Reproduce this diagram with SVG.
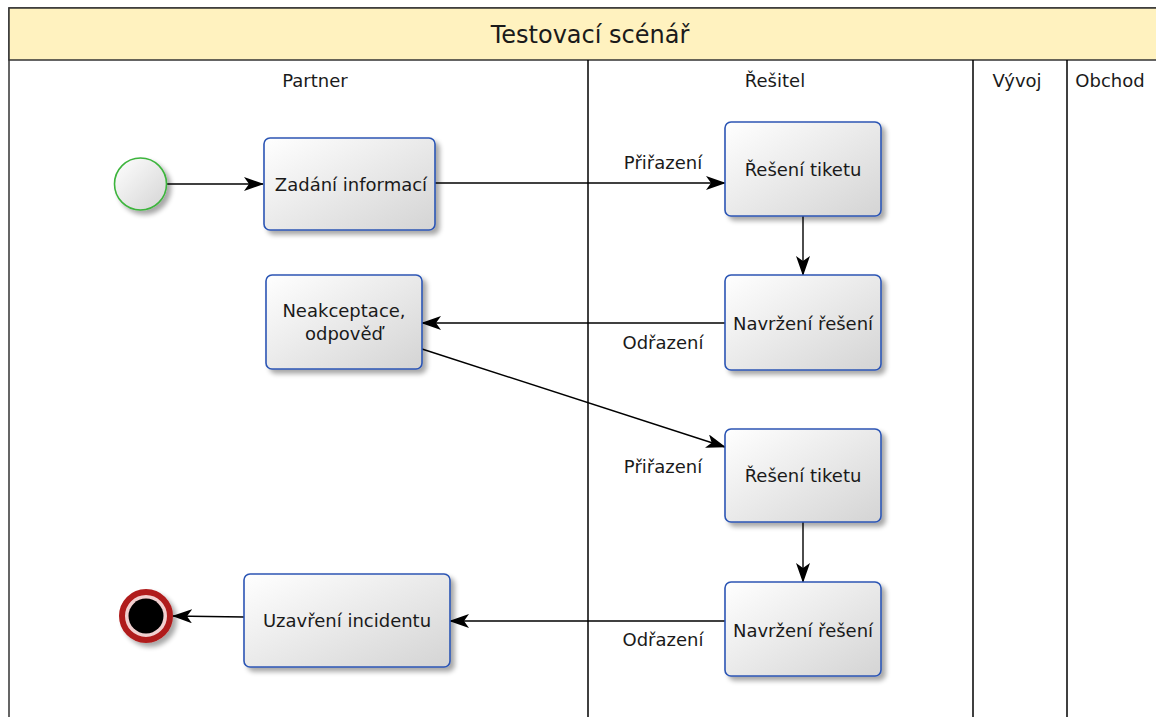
<svg xmlns="http://www.w3.org/2000/svg" width="1156" height="717" viewBox="0 0 1156 717">
<defs>
<linearGradient id="g" x1="0" y1="0" x2="1" y2="1">
<stop offset="0" stop-color="#ffffff"/>
<stop offset="1" stop-color="#d4d4d4"/>
</linearGradient>
<filter id="sh" x="-20%" y="-20%" width="150%" height="150%">
<feGaussianBlur in="SourceAlpha" stdDeviation="2.5"/>
<feOffset dx="4" dy="4" result="b"/>
<feComponentTransfer><feFuncA type="linear" slope="0.35"/></feComponentTransfer>
<feMerge><feMergeNode/><feMergeNode in="SourceGraphic"/></feMerge>
</filter>
<marker id="arr" viewBox="0 0 20 14" refX="19" refY="7" markerWidth="20" markerHeight="14" markerUnits="userSpaceOnUse" orient="auto">
<path d="M0,0 L20,7 L0,14 L5,7 Z" fill="#000"/>
</marker>
<style>
.t{font-family:"DejaVu Sans",Tahoma,sans-serif;font-size:18px;fill:#1a1a1a;text-anchor:middle}
.lbl{font-family:"DejaVu Sans",Tahoma,sans-serif;font-size:18px;fill:#1a1a1a;text-anchor:middle}
.box{fill:url(#g);stroke:#2c55b4;stroke-width:1.6;filter:url(#sh)}
.e{stroke:#000;stroke-width:1.4;fill:none;marker-end:url(#arr)}
.lane{stroke:#000;stroke-width:1.5;fill:none}
</style>
</defs>
<g id="pool">
<rect x="9" y="8" width="1160" height="720" fill="#fff" stroke="#333" stroke-width="1.5"/>
<rect x="9" y="8" width="1160" height="52" fill="#fff2bf" stroke="#333" stroke-width="1.5"/>
<text class="t" x="590" y="43" style="font-size:24px">Testovací scénář</text>
<line class="lane" x1="588" y1="60" x2="588" y2="717"/>
<line class="lane" x1="973" y1="60" x2="973" y2="717"/>
<line class="lane" x1="1067" y1="60" x2="1067" y2="717"/>
<text class="t" x="315" y="87">Partner</text>
<text class="t" x="775" y="87">Řešitel</text>
<text class="t" x="1017" y="87">Vývoj</text>
<text class="t" x="1110" y="87">Obchod</text>
</g>
<g id="connectors">
<line class="e" x1="167" y1="184" x2="263" y2="184"/>
<line class="e" x1="435" y1="183" x2="725" y2="183"/>
<line class="e" x1="803" y1="216" x2="803" y2="275"/>
<line class="e" x1="725" y1="323" x2="422" y2="323"/>
<line class="e" x1="422" y1="349" x2="725" y2="447"/>
<line class="e" x1="803" y1="522" x2="803" y2="582"/>
<line class="e" x1="725" y1="621" x2="450" y2="621"/>
<line class="e" x1="244" y1="617" x2="173" y2="616"/>
<text class="lbl" x="663" y="169">Přiřazení</text>
<text class="lbl" x="663" y="349">Odřazení</text>
<text class="lbl" x="663" y="473">Přiřazení</text>
<text class="lbl" x="663" y="646">Odřazení</text>
</g>
<g id="start">
<circle cx="140.5" cy="184" r="26" fill="url(#g)" stroke="#3cb43c" stroke-width="1.6" filter="url(#sh)"/>
</g>
<g id="zadani">
<rect class="box" x="264" y="138" width="171" height="92" rx="6"/>
<text class="t" x="351" y="191">Zadání informací</text>
</g>
<g id="reseni1">
<rect class="box" x="725" y="122" width="156" height="94" rx="6"/>
<text class="t" x="803" y="176">Řešení tiketu</text>
</g>
<g id="navrzeni1">
<rect class="box" x="725" y="275" width="156" height="95" rx="6"/>
<text class="t" x="803" y="330">Navržení řešení</text>
</g>
<g id="neakceptace">
<rect class="box" x="266" y="275" width="156" height="94" rx="6"/>
<text class="t" x="344" y="317">Neakceptace,</text>
<text class="t" x="344" y="340">odpověď</text>
</g>
<g id="reseni2">
<rect class="box" x="725" y="429" width="156" height="93" rx="6"/>
<text class="t" x="803" y="482">Řešení tiketu</text>
</g>
<g id="navrzeni2">
<rect class="box" x="725" y="582" width="156" height="94" rx="6"/>
<text class="t" x="803" y="637">Navržení řešení</text>
</g>
<g id="uzavreni">
<rect class="box" x="244" y="574" width="206" height="93" rx="6"/>
<text class="t" x="347" y="627">Uzavření incidentu</text>
</g>
<g id="end">
<circle cx="146" cy="616" r="24" fill="#f2d0d0" stroke="#b01c1c" stroke-width="6" filter="url(#sh)"/>
<circle cx="146" cy="616" r="17.5" fill="#000"/>
</g>
</svg>
